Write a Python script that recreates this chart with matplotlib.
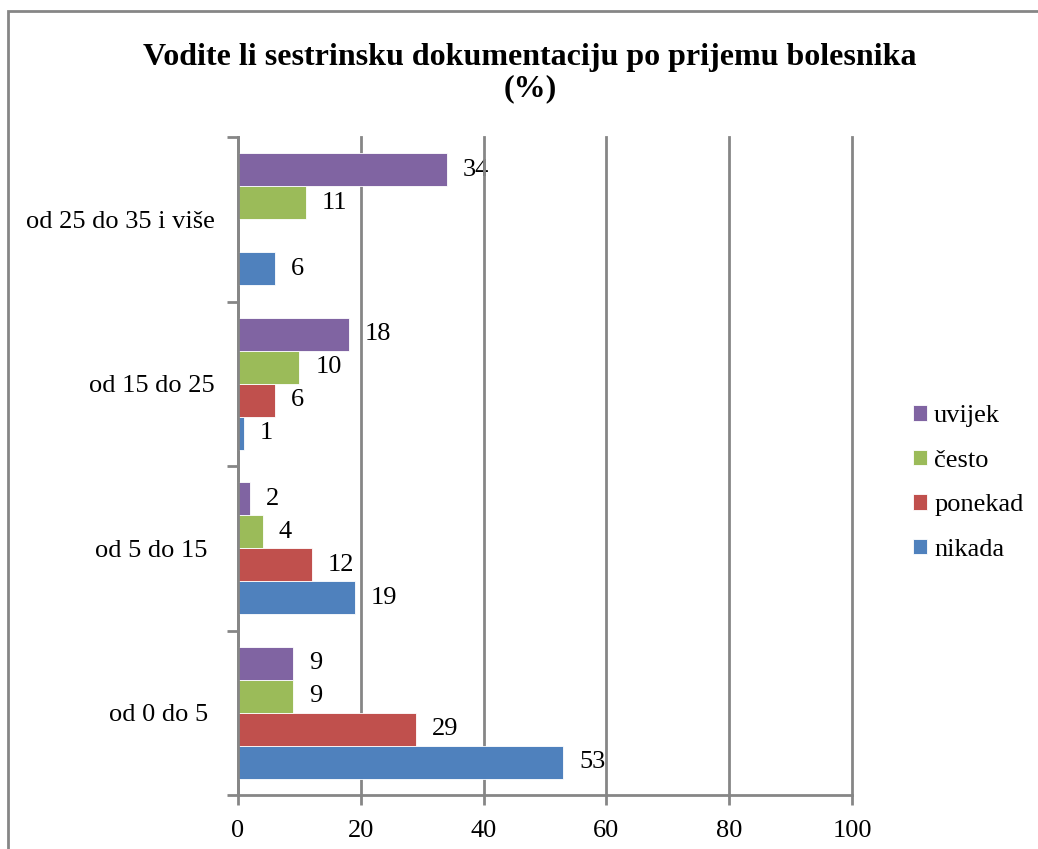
import numpy as np
import matplotlib.pyplot as plt
from matplotlib.patches import Rectangle

plt.rcParams["font.family"] = ["Liberation Serif", "DejaVu Serif"]

kategorije = ["od 0 do 5 ", "od 5 do 15 ", "od 15 do 25", "od 25 do 35 i više"]
serije = ["nikada", "ponekad", "često", "uvijek"]
nikada = [53, 19, 1, 6]
ponekad = [29, 12, 6, np.nan]
cesto = [9, 4, 10, 11]
uvijek = [9, 2, 18, 34]
boje = ["#4F81BD", "#C0504D", "#9BBB59", "#8064A2"]
x_ticks = [0, 20, 40, 60, 80, 100]

vrijednosti = [nikada, ponekad, cesto, uvijek]

fig = plt.figure(figsize=(10.38, 8.49), dpi=100)
ax = fig.add_axes([238 / 1038, 1 - 795 / 849, (852 - 238) / 1038, (795 - 137) / 849])

y = np.arange(len(kategorije))
visina = 0.2
pomaci = [-0.3, -0.1, 0.1, 0.3]

for naziv, vals, boja, pomak in zip(serije, vrijednosti, boje, pomaci):
    vals = np.array(vals, dtype=float)
    ax.barh(y + pomak, np.nan_to_num(vals), height=visina, color=boja,
            edgecolor="white", linewidth=0.6, label=naziv, zorder=2)
    for yi, v in zip(y + pomak, vals):
        if np.isnan(v):
            continue
        ax.annotate(f"{v:g}", (v, yi), xytext=(16, 0), textcoords="offset pixels",
                    va="center", ha="left", fontsize=19, zorder=0.3)

ax.set_xlim(0, 100)
ax.set_ylim(-0.5, len(kategorije) - 0.5)
ax.set_xticks(x_ticks)
ax.set_xticklabels([str(t) for t in x_ticks], fontsize=19)

siva = "#868686"
ax.xaxis.grid(True, color=siva, linewidth=2)
for gl in ax.get_xgridlines():
    gl.set_clip_on(False)
ax.set_axisbelow(True)
for s in ["top", "right"]:
    ax.spines[s].set_visible(False)
for s in ["left", "bottom"]:
    ax.spines[s].set_color(siva)
    ax.spines[s].set_linewidth(2)

ax.set_yticks(np.arange(-0.5, len(kategorije), 1.0))
ax.set_yticklabels([])
ax.set_yticks(y, minor=True)
ax.set_yticklabels(kategorije, minor=True, fontsize=19)
ax.tick_params(axis="y", which="major", length=8, width=2, color=siva, direction="out")
ax.tick_params(axis="y", which="minor", length=0, pad=17)
ax.tick_params(axis="x", length=7, width=2, color=siva, direction="out", pad=11)

handles, labels = ax.get_legend_handles_labels()
fig.legend(handles[::-1], labels[::-1], loc="center left",
           bbox_to_anchor=(889 / 1038, 1 - 483 / 849), frameon=False,
           fontsize=19, handlelength=0.53, handleheight=0.53, handletextpad=0.28,
           labelspacing=0.85)

fig.text(530 / 1038, 1 - 73 / 849,
         "Vodite li sestrinsku dokumentaciju po prijemu bolesnika\n(%)",
         ha="center", va="center", fontsize=23, fontweight="bold", linespacing=1.1)

fig.patches.append(Rectangle((8 / 1038, -0.1), 1.2, 1.1 - 11 / 849,
                             transform=fig.transFigure, fill=False,
                             edgecolor=siva, linewidth=2))

fig.savefig("out.png", dpi=100)
